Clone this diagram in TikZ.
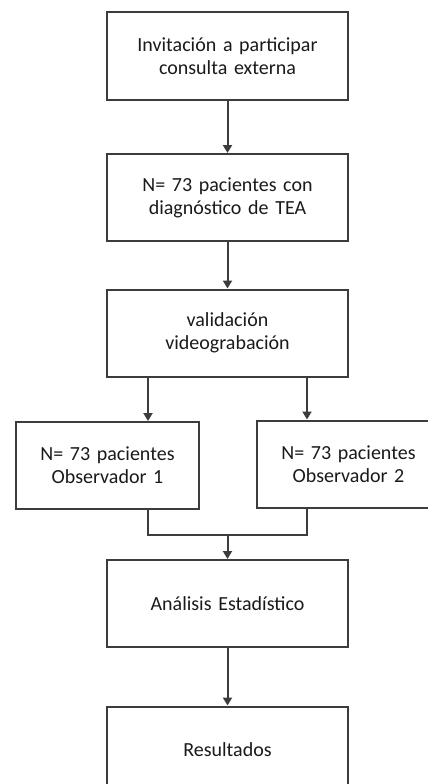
\documentclass[tikz,border=0pt]{standalone}
\usepackage{fontspec}
\setmainfont{Carlito}
\usetikzlibrary{arrows.meta}
\definecolor{edgecol}{HTML}{3C3C3C}
\definecolor{txtcol}{HTML}{1A1A1A}
\tikzset{
  box/.style={draw=edgecol, line width=2pt, fill=white, inner sep=0pt,
    minimum height=87pt, text width=235pt, align=center,
    font=\fontsize{20}{23}\selectfont, text=txtcol},
  wide/.style={box, minimum width=241pt},
  narrow/.style={box, minimum width=183pt, text width=178pt},
  link/.style={draw=edgecol, line width=2pt},
  arr/.style={link, -{Triangle[length=8pt,width=9pt]}}
}
\begin{document}
\begin{tikzpicture}[x=1pt,y=-1pt]
\useasboundingbox (0,0) rectangle (428,784);
\node[wide] (b1) at (227.5,56) {Invitación a participar\\consulta externa};
\node[wide] (b2) at (227.5,197.5) {N= 73 pacientes con\\diagnóstico de TEA};
\node[wide] (b3) at (227.5,333) {validación\\videograbación};
\node[narrow] (b4) at (107.5,465.5) {N= 73 pacientes\\Observador 1};
\node[narrow] (b5) at (348.5,464) {N= 73 pacientes\\Observador 2};
\node[wide] (b6) at (227.5,603.5) {Análisis Estadístico};
\node[wide] (b7) at (227.5,750) {Resultados};
\coordinate (m) at (227.5,535);
\draw[arr] (b1.south) -- (b2.north);
\draw[arr] (b2.south) -- (b3.north);
\draw[arr] ([xshift=-79.5pt]b3.south) -- ([xshift=-79.5pt]b3.south |- b4.north);
\draw[arr] ([xshift=79.5pt]b3.south) -- ([xshift=79.5pt]b3.south |- b5.north);
\draw[link] ([xshift=-79.5pt]b3.south |- b4.south) |- (m);
\draw[link] ([xshift=79.5pt]b3.south |- b5.south) |- (m);
\draw[arr] (m) -- (b6.north);
\draw[arr] (b6.south) -- (b7.north);
\end{tikzpicture}
\end{document}
